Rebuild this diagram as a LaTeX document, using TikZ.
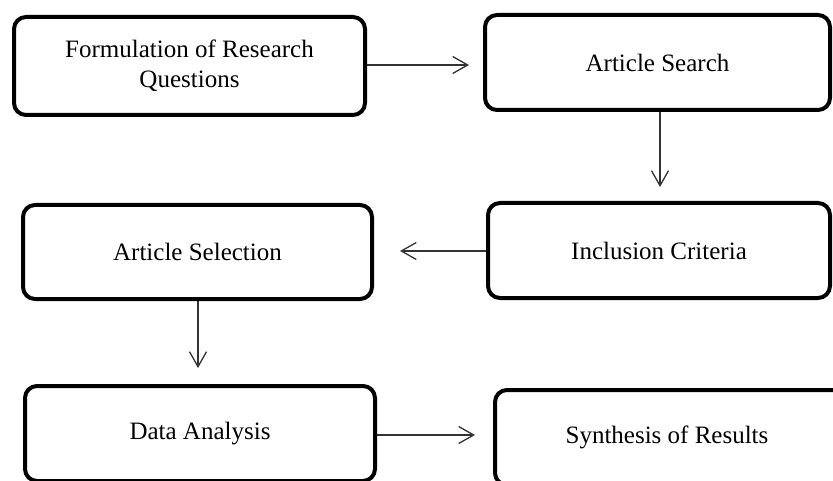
\documentclass[tikz,border=0pt]{standalone}
\usepackage{fontspec}
\setmainfont{Liberation Serif}
\usetikzlibrary{arrows.meta}
\begin{document}
\begin{tikzpicture}[x=1pt,y=-1pt,
  box/.style={draw=black, line width=4pt, rounded corners=12pt, inner sep=0pt,
    align=center, font=\fontsize{25}{30}\selectfont, fill=white},
  conn/.style={draw=black!80, line width=1.3pt,
    -{Straight Barb[length=15pt,width=17pt,line width=1.3pt]}}]
\useasboundingbox (0,0) rectangle (833,481);
\node[box, minimum width=351pt, minimum height=98pt] (b1) at (189.5,66) {Formulation of Research\\Questions};
\node[box, minimum width=345pt, minimum height=95pt] (b2) at (657.5,62.5) {Article Search};
\node[box, minimum width=349pt, minimum height=94pt] (b3) at (197.5,252) {Article Selection};
\node[box, minimum width=342pt, minimum height=95pt] (b4) at (659,250.5) {Inclusion Criteria};
\node[box, minimum width=350pt, minimum height=95pt] (b5) at (200,433.5) {Data Analysis};
\node[box, minimum width=370pt, minimum height=95pt] (b6) at (680,437.5) {Synthesis of Results\hspace*{26pt}};
\coordinate (t1) at (469,65);
\coordinate (t2) at (660,187);
\coordinate (t3) at (400,251);
\coordinate (t4) at (198,368);
\coordinate (t5) at (475,435);
\draw[conn] (b1.east |- t1) -- (t1);
\draw[conn] (b2.south -| t2) -- (t2);
\draw[conn] (b4.west |- t3) -- (t3);
\draw[conn] (b3.south -| t4) -- (t4);
\draw[conn] (b5.east |- t5) -- (t5);
\end{tikzpicture}
\end{document}
